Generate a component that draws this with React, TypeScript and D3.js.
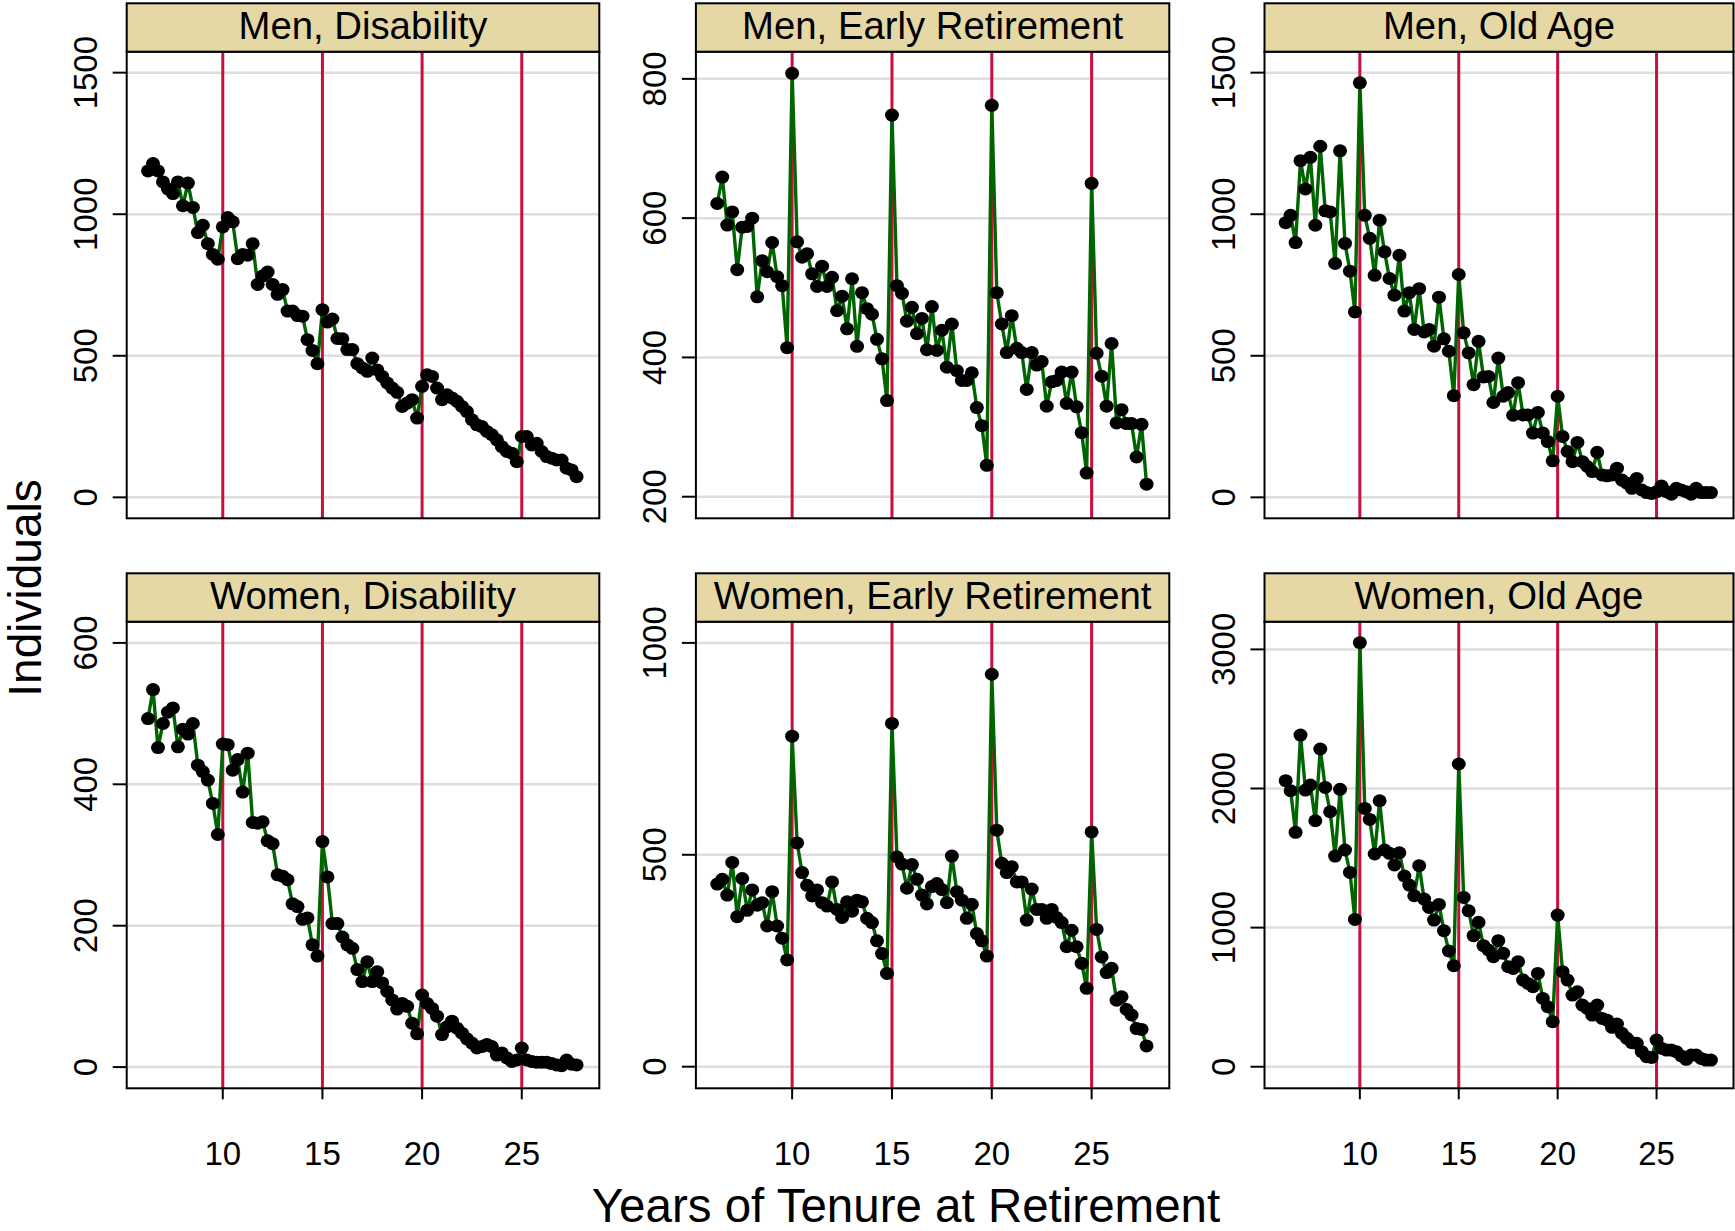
import React from "react";
import * as d3 from "d3";

const tenure = [
  6.25, 6.5, 6.75, 7, 7.25, 7.5, 7.75, 8, 8.25, 8.5, 8.75, 9, 9.25, 9.5, 9.75,
  10, 10.25, 10.5, 10.75, 11, 11.25, 11.5, 11.75, 12, 12.25, 12.5, 12.75, 13, 13.25, 13.5, 13.75, 14, 14.25, 14.5, 14.75,
  15, 15.25, 15.5, 15.75, 16, 16.25, 16.5, 16.75, 17, 17.25, 17.5, 17.75, 18, 18.25, 18.5, 18.75, 19, 19.25, 19.5, 19.75,
  20, 20.25, 20.5, 20.75, 21, 21.25, 21.5, 21.75, 22, 22.25, 22.5, 22.75, 23, 23.25, 23.5, 23.75, 24, 24.25, 24.5, 24.75,
  25, 25.25, 25.5, 25.75, 26, 26.25, 26.5, 26.75, 27, 27.25, 27.5, 27.75,
];

const menDisability = [
  1153, 1179, 1153, 1114, 1089, 1073, 1114, 1030, 1110, 1024, 935, 961, 896, 858, 841,
  955, 988, 973, 843, 858, 855, 896, 752, 782, 796, 752, 717, 734, 658, 658, 642, 640, 557, 519, 472,
  663, 619, 630, 561, 560, 522, 522, 472, 457, 445, 492, 450, 427, 404, 386, 371, 321, 333, 345, 280,
  392, 433, 427, 386, 345, 362, 351, 339, 321, 303, 274, 256, 250, 233, 221, 203, 179, 162, 156, 126,
  215, 215, 185, 191, 162, 144, 138, 132, 132, 103, 97, 73,
];

const menEarly = [
  621, 659, 590, 609, 526, 587, 588, 600, 487, 539, 523, 565, 516, 503, 414,
  808, 566, 544, 549, 520, 502, 531, 502, 515, 467, 488, 441, 513, 416, 493, 470, 462, 426, 398, 338,
  748, 503, 492, 452, 472, 434, 456, 411, 473, 410, 439, 386, 448, 381, 367, 367, 378, 328, 302, 245,
  762, 493, 448, 407, 460, 413, 407, 354, 407, 389, 394, 330, 365, 367, 379, 334, 379, 329, 292, 234,
  650, 406, 373, 330, 420, 306, 325, 305, 305, 257, 304, 218,
];

const menOld = [
  970, 996, 900, 1189, 1089, 1201, 961, 1240, 1012, 1008, 826, 1224, 897, 799, 655,
  1464, 996, 915, 784, 979, 867, 773, 714, 855, 658, 723, 593, 737, 584, 593, 534, 707, 560, 516, 359,
  787, 581, 510, 398, 551, 425, 427, 335, 492, 357, 370, 290, 405, 291, 291, 227, 300, 227, 197, 129,
  357, 215, 162, 126, 194, 126, 109, 91, 159, 79, 76, 79, 103, 61, 50, 32, 67, 26, 17, 14,
  20, 40, 20, 11, 32, 26, 20, 11, 32, 17, 17, 17,
];

const womenDisability = [
  493, 534, 452, 486, 502, 508, 453, 478, 471, 486, 427, 418, 406, 373, 329,
  457, 456, 420, 435, 389, 444, 346, 345, 347, 320, 316, 272, 270, 265, 231, 227, 209, 211, 173, 157,
  319, 269, 203, 203, 184, 173, 168, 138, 121, 149, 121, 135, 119, 107, 95, 82, 90, 86, 62, 47,
  102, 90, 83, 72, 46, 57, 65, 55, 48, 40, 34, 27, 29, 32, 29, 17, 20, 13, 8, 10,
  27, 10, 8, 7, 7, 7, 5, 3, 2, 10, 4, 3,
];

const womenEarly = [
  431, 442, 405, 482, 354, 444, 369, 417, 381, 387, 332, 413, 332, 303, 252,
  780, 528, 458, 428, 403, 417, 387, 379, 436, 371, 352, 389, 367, 393, 389, 350, 340, 297, 267, 220,
  810, 495, 478, 421, 477, 442, 405, 384, 425, 432, 418, 387, 497, 413, 393, 350, 383, 314, 297, 261,
  926, 558, 480, 458, 472, 436, 436, 346, 419, 371, 371, 350, 371, 352, 340, 283, 322, 283, 244, 185,
  554, 324, 259, 222, 232, 157, 165, 135, 122, 90, 88, 49,
];

const womenOld = [
  2056, 1984, 1685, 2384, 1989, 2025, 1768, 2284, 2008, 1833, 1514, 1994, 1558, 1397, 1059,
  3048, 1857, 1778, 1529, 1912, 1558, 1534, 1450, 1538, 1371, 1306, 1229, 1445, 1205, 1145, 1054, 1167, 978, 832, 726,
  2176, 1217, 1121, 942, 1038, 870, 839, 791, 906, 815, 719, 707, 755, 623, 599, 575, 671, 491, 431, 324,
  1090, 683, 623, 515, 539, 443, 419, 371, 443, 347, 335, 283, 307, 240, 204, 173, 168, 108, 72, 67,
  192, 132, 120, 120, 108, 77, 53, 84, 84, 60, 48, 48,
];

const panelTitles = [
  "Men, Disability", "Men, Early Retirement", "Men, Old Age",
  "Women, Disability", "Women, Early Retirement", "Women, Old Age",
];
const panelSeries = [menDisability, menEarly, menOld, womenDisability, womenEarly, womenOld];
const panelYTicks = [
  [0, 500, 1000, 1500],
  [200, 400, 600, 800],
  [0, 500, 1000, 1500],
  [0, 200, 400, 600],
  [0, 500, 1000],
  [0, 1000, 2000, 3000],
];
const panelYDomains = [
  [-74, 1574],
  [169, 839],
  [-74, 1574],
  [-30, 630],
  [-51, 1050],
  [-155, 3199],
];
const xTicks = [10, 15, 20, 25];
const cutoffs = [10, 15, 20, 25];
const xDomain = [5.18, 28.89];

const colLeft = [126.7, 695.9, 1264.5];
const colRight = [599.3, 1169.3, 1733.5];
const rowStripTop = [3.3, 573.3];
const rowPlotTop = [51.7, 621.7];
const rowPlotBottom = [518.3, 1088.3];

const FONT = "'Liberation Sans', Arial, Helvetica, sans-serif";
const STRIP_FILL = "#E5D8A5";
const RED = "#C8103C";
const GREEN = "#006400";

function Panel({ idx }: { idx: number }) {
  const row = Math.floor(idx / 3);
  const col = idx % 3;
  const left = colLeft[col];
  const right = colRight[col];
  const top = rowPlotTop[row];
  const bottom = rowPlotBottom[row];
  const stripTop = rowStripTop[row];
  const x = d3.scaleLinear().domain(xDomain).range([left, right]);
  const y = d3.scaleLinear().domain(panelYDomains[idx]).range([bottom, top]);
  const values = panelSeries[idx];
  const pts = tenure.map((t, i) => [t, values[i]] as [number, number]);
  const line = d3.line<[number, number]>().x((d) => x(d[0])).y((d) => y(d[1]));
  return (
    <g>
      <rect x={left} y={top} width={right - left} height={bottom - top} fill="#fff" />
      {panelYTicks[idx].map((v) => (
        <line key={"g" + v} x1={left} x2={right} y1={y(v)} y2={y(v)} stroke="#DEDEDE" strokeWidth={2.5} />
      ))}
      {cutoffs.map((c) => (
        <line key={"r" + c} x1={x(c)} x2={x(c)} y1={top} y2={bottom} stroke={RED} strokeWidth={3} />
      ))}
      <path d={line(pts) || ""} fill="none" stroke={GREEN} strokeWidth={3.4} strokeLinejoin="round" />
      {pts.map((p, i) => (
        <ellipse key={"p" + i} cx={x(p[0])} cy={y(p[1])} rx={7} ry={6.5} fill="#000" />
      ))}
      <rect x={left} y={top} width={right - left} height={bottom - top} fill="none" stroke="#000" strokeWidth={2} />
      <rect x={left} y={stripTop} width={right - left} height={top - stripTop} fill={STRIP_FILL} stroke="#000" strokeWidth={2} />
      <text x={(left + right) / 2} y={stripTop + 35.5} textAnchor="middle" fontFamily={FONT} fontSize={38.3} fill="#000">
        {panelTitles[idx]}
      </text>
      {panelYTicks[idx].map((v) => (
        <g key={"t" + v}>
          <line x1={left - 14} x2={left} y1={y(v)} y2={y(v)} stroke="#000" strokeWidth={2} />
          <text
            transform={`translate(${left - 30},${y(v)}) rotate(-90)`}
            textAnchor="middle"
            fontFamily={FONT}
            fontSize={33}
            fill="#000"
          >
            {v}
          </text>
        </g>
      ))}
      {row === 1 &&
        xTicks.map((v) => (
          <g key={"x" + v}>
            <line x1={x(v)} x2={x(v)} y1={bottom} y2={bottom + 11} stroke="#000" strokeWidth={2} />
            <text x={x(v)} y={1165} textAnchor="middle" fontFamily={FONT} fontSize={33} fill="#000">
              {v}
            </text>
          </g>
        ))}
    </g>
  );
}

export default function App() {
  return (
    <svg
      width={1735}
      height={1231}
      style={{ position: "absolute", left: 0, top: 0, background: "#fff" }}
    >
      <rect x={0} y={0} width={1735} height={1231} fill="#fff" />
      {panelTitles.map((_, i) => (
        <Panel key={i} idx={i} />
      ))}
      <text
        transform={`translate(40.5,588) rotate(-90)`}
        textAnchor="middle"
        fontFamily={FONT}
        fontSize={46}
        fill="#000"
      >
        Individuals
      </text>
      <text x={906} y={1221.5} textAnchor="middle" fontFamily={FONT} fontSize={47.5} fill="#000">
        Years of Tenure at Retirement
      </text>
    </svg>
  );
}
